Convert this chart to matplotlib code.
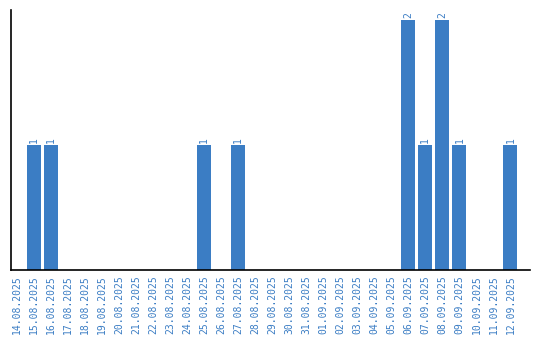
import matplotlib
matplotlib.use("Agg")
import matplotlib.pyplot as plt

# ── 数据 ──────────────────────────────────────────────
dates = [
    "14.08.2025", "15.08.2025", "16.08.2025", "17.08.2025", "18.08.2025",
    "19.08.2025", "20.08.2025", "21.08.2025", "22.08.2025", "23.08.2025",
    "24.08.2025", "25.08.2025", "26.08.2025", "27.08.2025", "28.08.2025",
    "29.08.2025", "30.08.2025", "31.08.2025", "01.09.2025", "02.09.2025",
    "03.09.2025", "04.09.2025", "05.09.2025", "06.09.2025", "07.09.2025",
    "08.09.2025", "09.09.2025", "10.09.2025", "11.09.2025", "12.09.2025",
]
counts = [0, 1, 1, 0, 0, 0, 0, 0, 0, 0,
          0, 1, 0, 1, 0, 0, 0, 0, 0, 0,
          0, 0, 0, 2, 1, 2, 1, 0, 0, 1]

BLUE = "#3b7dc4"

fig = plt.figure(figsize=(5.4, 3.4), dpi=100)
ax = fig.add_axes([11 / 540, 70 / 340, 519 / 540, 260 / 340])

x = list(range(len(dates)))
bars = ax.bar(x, counts, width=0.82, color=BLUE)

for xi, v in zip(x, counts):
    if v > 0:
        ax.text(xi, v + 0.02, str(v), rotation=90, ha="center", va="bottom",
                fontsize=7, color=BLUE, family="DejaVu Sans Mono")

ax.set_xlim(-0.35, 30.15)
ax.set_ylim(0, 2.08)
ax.set_xticks(x)
ax.set_xticklabels(dates, rotation=90, fontsize=7, color=BLUE,
                   family="DejaVu Sans Mono")
ax.tick_params(axis="x", length=0, pad=4)
ax.set_yticks([])
for side in ("top", "right"):
    ax.spines[side].set_visible(False)
ax.spines["left"].set_linewidth(1.2)
ax.spines["bottom"].set_linewidth(1.2)

fig.savefig("out.png", dpi=100)
